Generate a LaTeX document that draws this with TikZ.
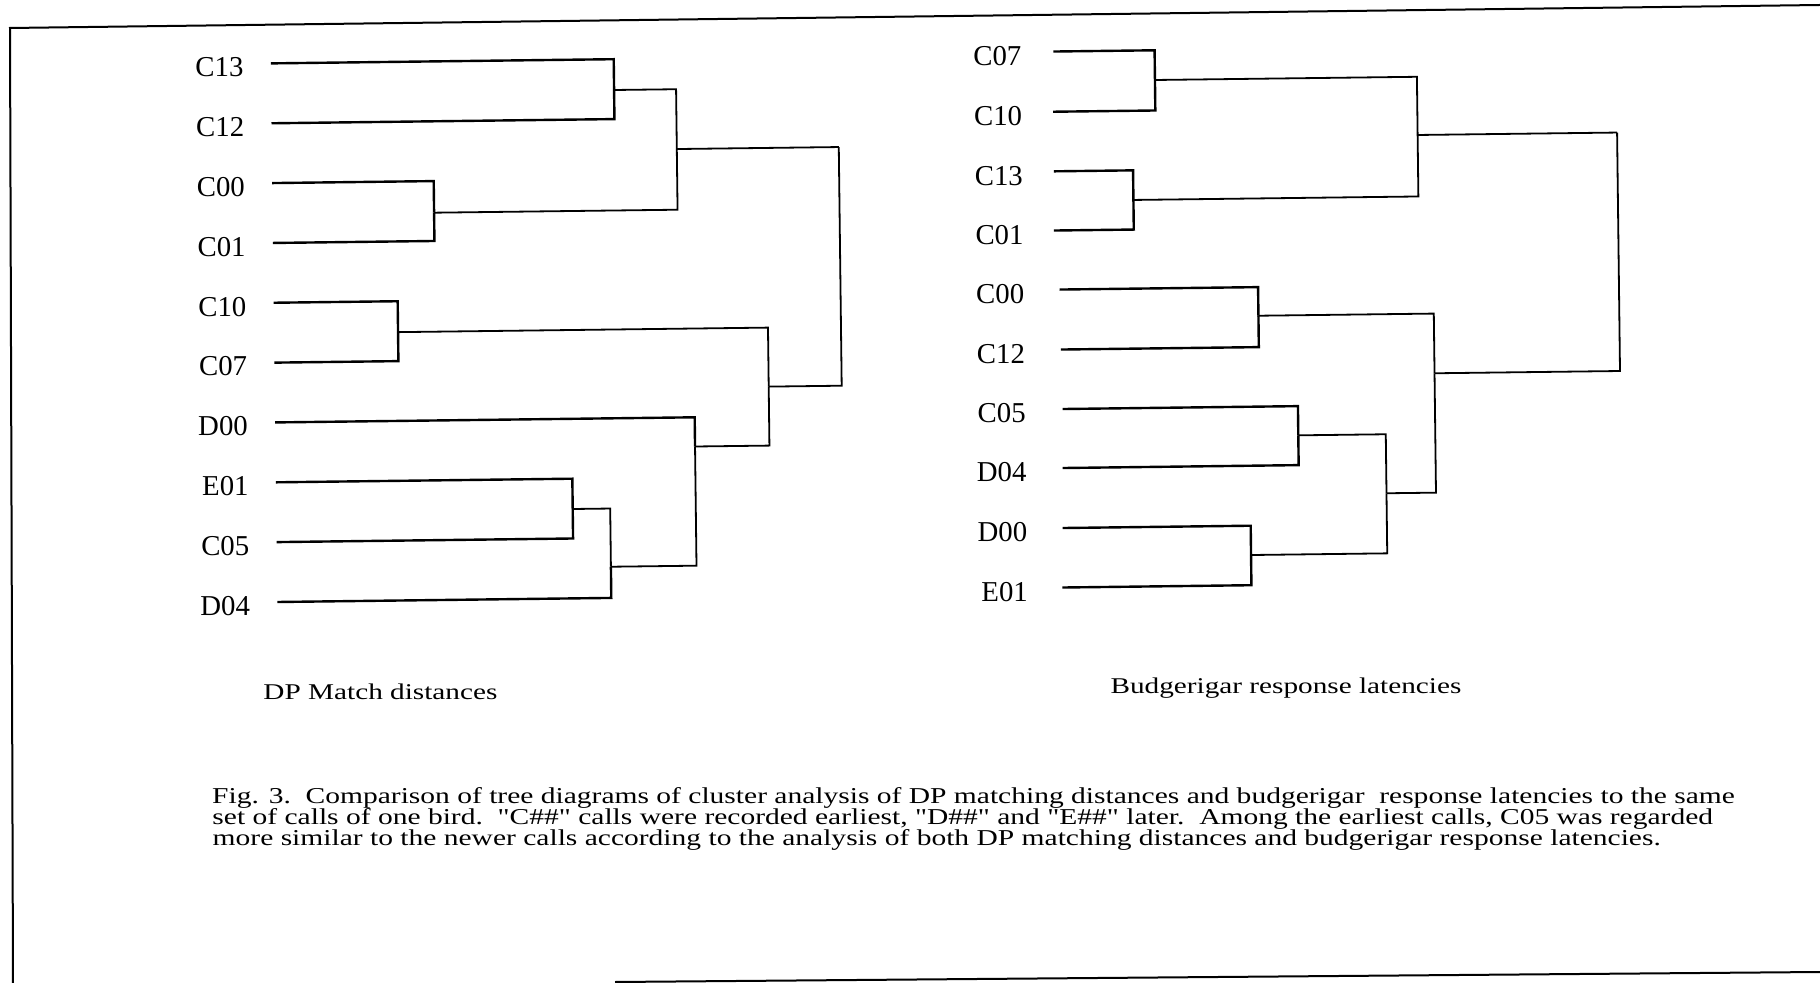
\documentclass[tikz,border=0pt]{standalone}
\usepackage{fontspec}
\setmainfont{Liberation Serif}
\begin{document}
\begin{tikzpicture}[x=0.5pt,y=-0.5pt,
  lab/.style={anchor=east,inner sep=0pt,font=\fontsize{14.4}{15}\selectfont},
  ttl/.style={anchor=base west,inner sep=0pt,font=\fontsize{11.25}{12}\selectfont},
  captxt/.style={anchor=base west,inner sep=0pt,font=\fontsize{11.35}{12}\selectfont},
  leafline/.style={line width=1.2pt},
  link/.style={line width=0.9pt},
  frameline/.style={line width=1pt}]
\useasboundingbox (0,0) rectangle (1820,983);
% frame
\coordinate (F1) at (1820,5);
\coordinate (F2) at (10,28);
\coordinate (F3) at (13,983);
\coordinate (F4) at (615,982);
\coordinate (F5) at (1820,972);
\draw[frameline] (F1) -- (F2) -- (F3);
\draw[frameline] (F4) -- (F5);
\begin{scope}[rotate=0.7]
% ---------- left tree ----------
\foreach \nm/\yy in {C13/66.7, C12/126.6, C00/186.4, C01/246.3, C10/306.1, C07/366, D00/425.8, E01/485.7, C05/545.5, D04/605.4} {
  \node[lab] (L\nm) at (243,\yy+3.5) {\nm};
  \coordinate (LS\nm) at (270,\yy);
}
\coordinate (LmA) at (613,97.5);
\coordinate (LmB) at (431.5,218);
\coordinate (LmC) at (675,157.3);
\coordinate (LmD) at (394,337);
\coordinate (LmE) at (566.5,516);
\coordinate (LmF) at (604,574.2);
\coordinate (LmG) at (689.6,455);
\coordinate (LmH) at (764,396);
\coordinate (LR) at (837,157.3);
\draw[leafline] (LSC13) -| (LmA);
\draw[leafline] (LSC12) -| (LmA);
\draw[leafline] (LSC00) -| (LmB);
\draw[leafline] (LSC01) -| (LmB);
\draw[leafline] (LSC10) -| (LmD);
\draw[leafline] (LSC07) -| (LmD);
\draw[leafline] (LSE01) -| (LmE);
\draw[leafline] (LSC05) -| (LmE);
\draw[leafline] (LSD04) -| (LmF);
\draw[leafline] (LSD00) -| (LmG);
\draw[link] (LmA) -| (LmC);
\draw[link] (LmB) -| (LmC);
\draw[link] (LmE) -| (LmF);
\draw[link] (LmF) -| (LmG);
\draw[link] (LmD) -| (LmH);
\draw[link] (LmG) -| (LmH);
\draw[link] (LmC) -| (LR);
\draw[link] (LmH) -| (LR);
% ---------- right tree ----------
\foreach \nm/\yy/\xx in {C07/64.4/1052.8, C10/124.6/1051.8, C13/184.2/1051.8, C01/243.4/1051, C00/302.5/1056.2, C12/362.5/1056.6, C05/422/1057.6, D04/481/1056.9, D00/541/1056.2, E01/600.5/1055.3} {
  \node[lab] (R\nm) at (1021,\yy+4) {\nm};
  \coordinate (RS\nm) at (\xx,\yy);
}
\coordinate (RmA) at (1154,94.1);
\coordinate (RmB) at (1131,213.8);
\coordinate (RmC) at (1416,152.3);
\coordinate (RmD) at (1254.6,331.1);
\coordinate (RmE) at (1293,451.2);
\coordinate (RmF) at (1244.3,570.3);
\coordinate (RmG) at (1380.5,510.2);
\coordinate (RmH) at (1430,390.8);
\coordinate (RR) at (1615.5,152.3);
\draw[leafline] (RSC07) -| (RmA);
\draw[leafline] (RSC10) -| (RmA);
\draw[leafline] (RSC13) -| (RmB);
\draw[leafline] (RSC01) -| (RmB);
\draw[leafline] (RSC00) -| (RmD);
\draw[leafline] (RSC12) -| (RmD);
\draw[leafline] (RSC05) -| (RmE);
\draw[leafline] (RSD04) -| (RmE);
\draw[leafline] (RSD00) -| (RmF);
\draw[leafline] (RSE01) -| (RmF);
\draw[link] (RmA) -| (RmC);
\draw[link] (RmB) -| (RmC);
\draw[link] (RmE) -| (RmG);
\draw[link] (RmF) -| (RmG);
\draw[link] (RmD) -| (RmH);
\draw[link] (RmG) -| (RmH);
\draw[link] (RmC) -| (RR);
\draw[link] (RmH) -| (RR);
% ---------- titles ----------
\node[ttl] (T1) at (254.5,702.9) {\scalebox{1.3}[1]{DP Match distances}};
\node[ttl] (T2) at (1101.6,707.4) {\scalebox{1.3}[1]{Budgerigar response latencies}};
% ---------- caption ----------
\node[captxt] (K1) at (202,805.9) {\scalebox{1.3}[1]{Fig. 3.\ \ Comparison of tree diagrams of cluster analysis of DP matching distances and budgerigar\ \ response latencies to the same}};
\node[captxt] (K2) at (202,826.9) {\scalebox{1.3}[1]{set of calls of one bird.\ \ \textquotedbl C\#\#\textquotedbl\ calls were recorded earliest, \textquotedbl D\#\#\textquotedbl\ and \textquotedbl E\#\#\textquotedbl\ later.\ \ Among the earliest calls, C05 was regarded}};
\node[captxt] (K3) at (202,847.9) {\scalebox{1.3}[1]{more similar to the newer calls according to the analysis of both DP matching distances and budgerigar response latencies.}};
\end{scope}
\end{tikzpicture}
\end{document}
